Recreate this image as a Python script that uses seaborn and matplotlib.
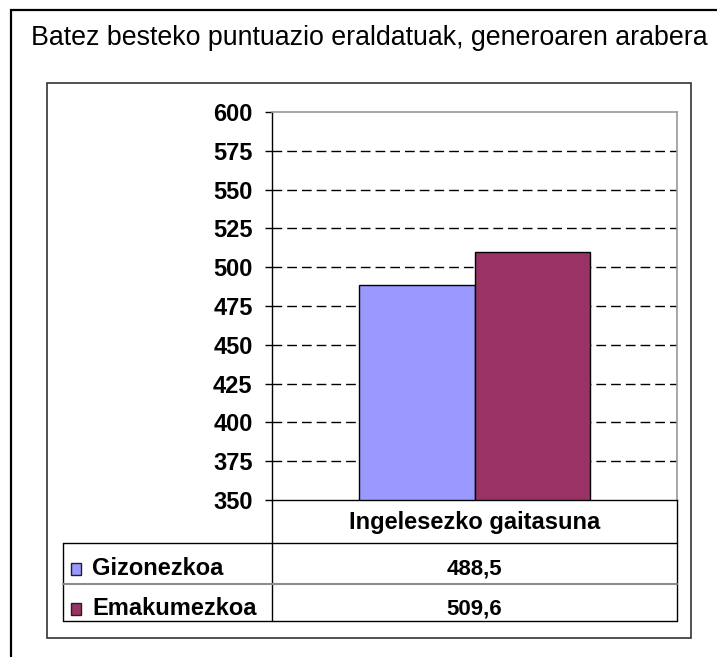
import matplotlib
matplotlib.use('Agg')
import matplotlib.pyplot as plt
import seaborn as sns
import pandas as pd
from matplotlib.patches import Rectangle
from matplotlib.lines import Line2D

# data
category = ['Ingelesezko gaitasuna']
series = ['Gizonezkoa', 'Emakumezkoa']
values = [488.5, 509.6]
value_labels = ['488,5', '509,6']
colors = ['#9999FF', '#993366']
yticks = [350, 375, 400, 425, 450, 475, 500, 525, 550, 575, 600]
title = 'Batez besteko puntuazio eraldatuak, generoaren arabera'

df = pd.DataFrame({'cat': category * len(series), 'serie': series, 'val': values})

sns.set_style('white')
plt.rcParams['font.family'] = ['Liberation Sans', 'DejaVu Sans']
plt.rcParams['text.color'] = 'black'
plt.rcParams['ytick.color'] = 'black'

W, H = 717, 657
fig = plt.figure(figsize=(W / 100, H / 100), dpi=100)

def fx(x):
    return x / W

def fy(y):
    return 1 - y / H

def hline(x0, x1, y, color='black', lw=1.0):
    fig.add_artist(Line2D([fx(x0), fx(x1)], [fy(y), fy(y)], color=color, lw=lw))

def vline(x, y0, y1, color='black', lw=1.0):
    fig.add_artist(Line2D([fx(x), fx(x)], [fy(y0), fy(y1)], color=color, lw=lw))

# outer + inner frames
fig.add_artist(Rectangle((fx(11), fy(670)), fx(730) - fx(11), fy(10) - fy(670),
                         fill=False, edgecolor='black', lw=1.6))
fig.add_artist(Rectangle((fx(47), fy(638)), fx(691) - fx(47), fy(83) - fy(638),
                         fill=False, edgecolor='#333333', lw=1.2))

fig.text(fx(369), fy(45), title, ha='center', va='baseline', fontsize=19.3)

# plot area
ax = fig.add_axes([fx(272), fy(500), fx(677) - fx(272), fy(112) - fy(500)])
sns.barplot(data=df, x='cat', y='val', hue='serie', palette=colors, width=0.57,
            saturation=1, edgecolor='black', linewidth=1, legend=False, ax=ax)
ax.set_ylim(350, 600)
ax.set_yticks(yticks)
ax.set_yticklabels([str(t) for t in yticks], fontsize=17, fontweight='bold')
ax.set_xticks([])
ax.set_xlabel('')
ax.set_ylabel('')
for t in yticks[1:-1]:
    ax.axhline(t, color='black', lw=1, dashes=(7, 3.6), zorder=0)
ax.tick_params(axis='y', direction='out', length=5, width=1, color='black', pad=9, left=True)
for s in ['left', 'bottom']:
    ax.spines[s].set_color('black')
    ax.spines[s].set_linewidth(1)
for s in ['top', 'right']:
    ax.spines[s].set_color('#999999')
    ax.spines[s].set_linewidth(1.2)

# data table
vline(272, 500, 621)
vline(677, 500, 621)
vline(63, 543, 621)
hline(63, 677, 543)
hline(63, 677, 583.5, color='#8c8c8c', lw=1.5)
hline(63, 677, 621)
fig.text(fx(474.5), fy(529), category[0], ha='center', va='baseline', fontsize=17, fontweight='bold')
rows_base = [575, 615]
for name, lab, col, rb in zip(series, value_labels, colors, rows_base):
    fig.add_artist(Rectangle((fx(71), fy(rb)), fx(81) - fx(71), fy(rb - 12) - fy(rb),
                             facecolor=col, edgecolor='#222222', lw=1))
    fig.text(fx(92), fy(rb), name, ha='left', va='baseline', fontsize=17, fontweight='bold')
    fig.text(fx(474.5), fy(rb - 1), lab, ha='center', va='baseline', fontsize=16, fontweight='bold')

fig.savefig('out.png', dpi=100, facecolor='white')
